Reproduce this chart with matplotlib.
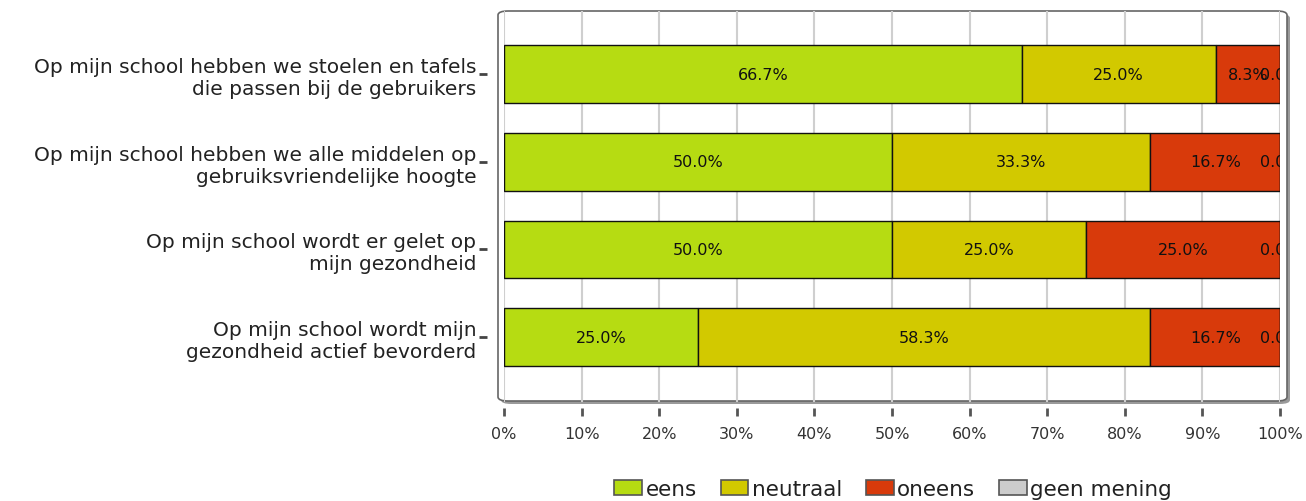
import matplotlib.pyplot as plt
from matplotlib.patches import FancyBboxPatch, Patch

# survey statements (top to bottom)
statements = [
    "Op mijn school hebben we stoelen en tafels\ndie passen bij de gebruikers",
    "Op mijn school hebben we alle middelen op\ngebruiksvriendelijke hoogte",
    "Op mijn school wordt er gelet op\nmijn gezondheid",
    "Op mijn school wordt mijn\ngezondheid actief bevorderd",
]
categories = ["eens", "neutraal", "oneens", "geen mening"]
eens = [66.7, 50.0, 50.0, 25.0]
neutraal = [25.0, 33.3, 25.0, 58.3]
oneens = [8.3, 16.7, 25.0, 16.7]
geen_mening = [0.0, 0.0, 0.0, 0.0]
xticks = [0, 10, 20, 30, 40, 50, 60, 70, 80, 90, 100]

COLORS = ["#b6dc12", "#d2c900", "#d83a0b", "#cccccc"]
W, H = 1306, 502

fig = plt.figure(figsize=(W / 100, H / 100), dpi=100)
ax = fig.add_axes([504 / W, 1 - 403 / H, 776 / W, 391 / H])
ax.set_facecolor("none")

# rounded frame with drop shadow, drawn behind the axes
shadow = FancyBboxPatch(
    (501 / W, 1 - 405 / H), 789 / W, 390 / H,
    boxstyle="round,pad=0,rounding_size=0.008",
    transform=fig.transFigure, facecolor="#9a9a9a", edgecolor="none",
    zorder=-3,
)
frame = FancyBboxPatch(
    (498 / W, 1 - 402 / H), 789 / W, 390 / H,
    boxstyle="round,pad=0,rounding_size=0.008",
    transform=fig.transFigure, facecolor="white", edgecolor="#666666",
    linewidth=1.2, zorder=-2,
)
fig.patches.extend([shadow, frame])

series = [eens, neutraal, oneens, geen_mening]
ypos = list(range(len(statements)))
left = [0.0] * len(statements)
for vals, color in zip(series, COLORS):
    ax.barh(ypos, vals, left=left, height=0.66, color=color,
            edgecolor="#111111", linewidth=1.0, zorder=2)
    for y, l, v in zip(ypos, left, vals):
        ax.text(l + v / 2, y, f"{v:.1f}%", ha="center", va="center",
                fontsize=11.5, color="#111111", clip_on=True, zorder=3)
    left = [l + v for l, v in zip(left, vals)]

ax.set_xlim(0, 100)
ax.set_ylim(3.74, -0.72)
ax.set_xticks(xticks)
ax.set_xticklabels([f"{t}%" for t in xticks])
ax.set_yticks(ypos)
ax.set_yticklabels(statements, linespacing=1.1)
ax.xaxis.grid(True, color="#cfcfcf", linewidth=1.5, zorder=1)
ax.set_axisbelow(True)

for side in ["top", "right", "bottom", "left"]:
    ax.spines[side].set_visible(False)
ax.spines["left"].set_position(("outward", 12))
ax.spines["bottom"].set_position(("outward", 4))
ax.tick_params(axis="x", length=6, width=2, color="#555555", pad=7,
               labelsize=11.5, labelcolor="#333333")
ax.tick_params(axis="y", length=6, width=2, color="#444444", pad=2,
               labelsize=14.5, labelcolor="#222222")

handles = [Patch(facecolor=c, edgecolor="#555555", linewidth=1.2)
           for c in COLORS]
fig.legend(handles, categories, loc="center", bbox_to_anchor=(893 / W, 1 - 490 / H),
           ncol=4, frameon=False, fontsize=15.5, handlelength=1.3,
           handleheight=0.65, handletextpad=0.15, columnspacing=1.1,
           labelcolor="#222222")

fig.savefig("out.png", dpi=100)
